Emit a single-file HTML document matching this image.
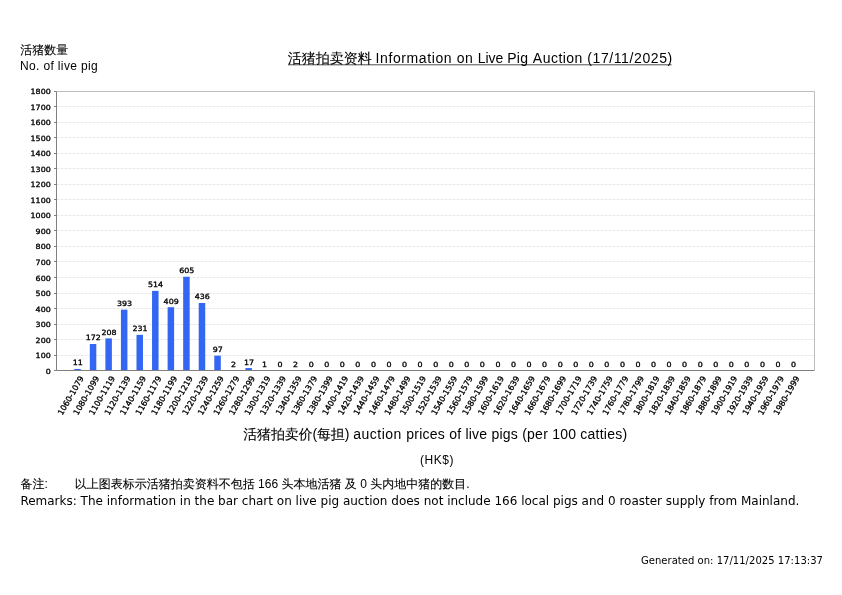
<!DOCTYPE html>
<html lang="zh-Hans"><head><meta charset="utf-8"><title>活猪拍卖资料 Information on Live Pig Auction</title>
<style>
html,body{margin:0;padding:0;background:#fff;}
body{width:842px;height:595px;position:relative;overflow:hidden;font-family:"Liberation Sans","WenQuanYi Zen Hei",sans-serif;color:#000;}
.cj{-webkit-text-stroke:0.1px #000;}
.dv{font-family:"DejaVu Sans","Liberation Sans",sans-serif;}
.t{position:absolute;white-space:pre;line-height:1;}
.chart{position:absolute;left:0;top:0;font-family:"DejaVu Sans","Liberation Sans",sans-serif;}
.chart text{fill:#000;stroke:#000;stroke-width:0.32px;}
.grid line{stroke:#e8e8e8;stroke-width:1;stroke-dasharray:3 1;}
.axis path,.axis line{fill:none;stroke:#7f7f7f;stroke-width:1;}
.ytick text{font-size:7.2px;text-anchor:end;}
.val text{font-size:7.2px;text-anchor:middle;}
.cat text{font-size:8px;text-anchor:end;}
</style></head><body>
<svg width="842" height="595" viewBox="0 0 842 595" class="chart">
<g class="grid">
<line x1="56.5" x2="814.5" y1="355.5" y2="355.5"/>
<line x1="56.5" x2="814.5" y1="339.5" y2="339.5"/>
<line x1="56.5" x2="814.5" y1="324.5" y2="324.5"/>
<line x1="56.5" x2="814.5" y1="308.5" y2="308.5"/>
<line x1="56.5" x2="814.5" y1="293.5" y2="293.5"/>
<line x1="56.5" x2="814.5" y1="277.5" y2="277.5"/>
<line x1="56.5" x2="814.5" y1="261.5" y2="261.5"/>
<line x1="56.5" x2="814.5" y1="246.5" y2="246.5"/>
<line x1="56.5" x2="814.5" y1="230.5" y2="230.5"/>
<line x1="56.5" x2="814.5" y1="215.5" y2="215.5"/>
<line x1="56.5" x2="814.5" y1="199.5" y2="199.5"/>
<line x1="56.5" x2="814.5" y1="184.5" y2="184.5"/>
<line x1="56.5" x2="814.5" y1="168.5" y2="168.5"/>
<line x1="56.5" x2="814.5" y1="153.5" y2="153.5"/>
<line x1="56.5" x2="814.5" y1="137.5" y2="137.5"/>
<line x1="56.5" x2="814.5" y1="122.5" y2="122.5"/>
<line x1="56.5" x2="814.5" y1="106.5" y2="106.5"/>
</g>
<path d="M56.5 91.5H814.5V370.5" fill="none" stroke="#bdbdbd" stroke-width="1"/>
<g fill="#3366f2">
<rect x="74.25" y="368.99" width="6.5" height="1.51"/>
<rect x="89.81" y="343.99" width="6.5" height="26.51"/>
<rect x="105.37" y="338.40" width="6.5" height="32.10"/>
<rect x="120.93" y="309.67" width="6.5" height="60.83"/>
<rect x="136.49" y="334.83" width="6.5" height="35.67"/>
<rect x="152.05" y="290.88" width="6.5" height="79.62"/>
<rect x="167.61" y="307.18" width="6.5" height="63.32"/>
<rect x="183.17" y="276.74" width="6.5" height="93.76"/>
<rect x="198.73" y="302.99" width="6.5" height="67.51"/>
<rect x="214.29" y="355.64" width="6.5" height="14.86"/>
<rect x="229.85" y="370.39" width="6.5" height="0.11"/>
<rect x="245.41" y="368.06" width="6.5" height="2.44"/>
<rect x="292.09" y="370.39" width="6.5" height="0.11"/>
</g>
<g class="axis">
<path d="M56.5 91.5V370.5H814.5"/>
<line x1="54.0" x2="56.5" y1="370.5" y2="370.5"/>
<line x1="54.0" x2="56.5" y1="355.5" y2="355.5"/>
<line x1="54.0" x2="56.5" y1="339.5" y2="339.5"/>
<line x1="54.0" x2="56.5" y1="324.5" y2="324.5"/>
<line x1="54.0" x2="56.5" y1="308.5" y2="308.5"/>
<line x1="54.0" x2="56.5" y1="293.5" y2="293.5"/>
<line x1="54.0" x2="56.5" y1="277.5" y2="277.5"/>
<line x1="54.0" x2="56.5" y1="261.5" y2="261.5"/>
<line x1="54.0" x2="56.5" y1="246.5" y2="246.5"/>
<line x1="54.0" x2="56.5" y1="230.5" y2="230.5"/>
<line x1="54.0" x2="56.5" y1="215.5" y2="215.5"/>
<line x1="54.0" x2="56.5" y1="199.5" y2="199.5"/>
<line x1="54.0" x2="56.5" y1="184.5" y2="184.5"/>
<line x1="54.0" x2="56.5" y1="168.5" y2="168.5"/>
<line x1="54.0" x2="56.5" y1="153.5" y2="153.5"/>
<line x1="54.0" x2="56.5" y1="137.5" y2="137.5"/>
<line x1="54.0" x2="56.5" y1="122.5" y2="122.5"/>
<line x1="54.0" x2="56.5" y1="106.5" y2="106.5"/>
<line x1="54.0" x2="56.5" y1="91.5" y2="91.5"/>
</g>
<g class="ytick">
<text transform="translate(50.7,373.80) scale(1.1,1)">0</text>
<text transform="translate(50.7,358.25) scale(1.1,1)">100</text>
<text transform="translate(50.7,342.71) scale(1.1,1)">200</text>
<text transform="translate(50.7,327.16) scale(1.1,1)">300</text>
<text transform="translate(50.7,311.61) scale(1.1,1)">400</text>
<text transform="translate(50.7,296.06) scale(1.1,1)">500</text>
<text transform="translate(50.7,280.52) scale(1.1,1)">600</text>
<text transform="translate(50.7,264.97) scale(1.1,1)">700</text>
<text transform="translate(50.7,249.42) scale(1.1,1)">800</text>
<text transform="translate(50.7,233.88) scale(1.1,1)">900</text>
<text transform="translate(50.7,218.33) scale(1.1,1)">1000</text>
<text transform="translate(50.7,202.78) scale(1.1,1)">1100</text>
<text transform="translate(50.7,187.24) scale(1.1,1)">1200</text>
<text transform="translate(50.7,171.69) scale(1.1,1)">1300</text>
<text transform="translate(50.7,156.14) scale(1.1,1)">1400</text>
<text transform="translate(50.7,140.59) scale(1.1,1)">1500</text>
<text transform="translate(50.7,125.05) scale(1.1,1)">1600</text>
<text transform="translate(50.7,109.50) scale(1.1,1)">1700</text>
<text transform="translate(50.7,93.95) scale(1.1,1)">1800</text>
</g>
<g class="val">
<text transform="translate(77.80,365.00) scale(1.1,1)">11</text>
<text transform="translate(93.36,340.00) scale(1.1,1)">172</text>
<text transform="translate(108.92,335.00) scale(1.1,1)">208</text>
<text transform="translate(124.48,306.00) scale(1.1,1)">393</text>
<text transform="translate(140.04,331.00) scale(1.1,1)">231</text>
<text transform="translate(155.60,287.00) scale(1.1,1)">514</text>
<text transform="translate(171.16,304.00) scale(1.1,1)">409</text>
<text transform="translate(186.72,273.00) scale(1.1,1)">605</text>
<text transform="translate(202.28,299.00) scale(1.1,1)">436</text>
<text transform="translate(217.84,352.00) scale(1.1,1)">97</text>
<text transform="translate(233.40,367.00) scale(1.1,1)">2</text>
<text transform="translate(248.96,365.00) scale(1.1,1)">17</text>
<text transform="translate(264.52,367.00) scale(1.1,1)">1</text>
<text transform="translate(280.08,367.00) scale(1.1,1)">0</text>
<text transform="translate(295.64,367.00) scale(1.1,1)">2</text>
<text transform="translate(311.20,367.00) scale(1.1,1)">0</text>
<text transform="translate(326.76,367.00) scale(1.1,1)">0</text>
<text transform="translate(342.32,367.00) scale(1.1,1)">0</text>
<text transform="translate(357.88,367.00) scale(1.1,1)">0</text>
<text transform="translate(373.44,367.00) scale(1.1,1)">0</text>
<text transform="translate(389.00,367.00) scale(1.1,1)">0</text>
<text transform="translate(404.56,367.00) scale(1.1,1)">0</text>
<text transform="translate(420.12,367.00) scale(1.1,1)">0</text>
<text transform="translate(435.68,367.00) scale(1.1,1)">0</text>
<text transform="translate(451.24,367.00) scale(1.1,1)">0</text>
<text transform="translate(466.80,367.00) scale(1.1,1)">0</text>
<text transform="translate(482.36,367.00) scale(1.1,1)">0</text>
<text transform="translate(497.92,367.00) scale(1.1,1)">0</text>
<text transform="translate(513.48,367.00) scale(1.1,1)">0</text>
<text transform="translate(529.04,367.00) scale(1.1,1)">0</text>
<text transform="translate(544.60,367.00) scale(1.1,1)">0</text>
<text transform="translate(560.16,367.00) scale(1.1,1)">0</text>
<text transform="translate(575.72,367.00) scale(1.1,1)">0</text>
<text transform="translate(591.28,367.00) scale(1.1,1)">0</text>
<text transform="translate(606.84,367.00) scale(1.1,1)">0</text>
<text transform="translate(622.40,367.00) scale(1.1,1)">0</text>
<text transform="translate(637.96,367.00) scale(1.1,1)">0</text>
<text transform="translate(653.52,367.00) scale(1.1,1)">0</text>
<text transform="translate(669.08,367.00) scale(1.1,1)">0</text>
<text transform="translate(684.64,367.00) scale(1.1,1)">0</text>
<text transform="translate(700.20,367.00) scale(1.1,1)">0</text>
<text transform="translate(715.76,367.00) scale(1.1,1)">0</text>
<text transform="translate(731.32,367.00) scale(1.1,1)">0</text>
<text transform="translate(746.88,367.00) scale(1.1,1)">0</text>
<text transform="translate(762.44,367.00) scale(1.1,1)">0</text>
<text transform="translate(778.00,367.00) scale(1.1,1)">0</text>
<text transform="translate(793.56,367.00) scale(1.1,1)">0</text>
</g>
<g class="cat">
<text transform="translate(84.10,378.0) rotate(-60)">1060-1079</text>
<text transform="translate(99.66,378.0) rotate(-60)">1080-1099</text>
<text transform="translate(115.22,378.0) rotate(-60)">1100-1119</text>
<text transform="translate(130.78,378.0) rotate(-60)">1120-1139</text>
<text transform="translate(146.34,378.0) rotate(-60)">1140-1159</text>
<text transform="translate(161.90,378.0) rotate(-60)">1160-1179</text>
<text transform="translate(177.46,378.0) rotate(-60)">1180-1199</text>
<text transform="translate(193.02,378.0) rotate(-60)">1200-1219</text>
<text transform="translate(208.58,378.0) rotate(-60)">1220-1239</text>
<text transform="translate(224.14,378.0) rotate(-60)">1240-1259</text>
<text transform="translate(239.70,378.0) rotate(-60)">1260-1279</text>
<text transform="translate(255.26,378.0) rotate(-60)">1280-1299</text>
<text transform="translate(270.82,378.0) rotate(-60)">1300-1319</text>
<text transform="translate(286.38,378.0) rotate(-60)">1320-1339</text>
<text transform="translate(301.94,378.0) rotate(-60)">1340-1359</text>
<text transform="translate(317.50,378.0) rotate(-60)">1360-1379</text>
<text transform="translate(333.06,378.0) rotate(-60)">1380-1399</text>
<text transform="translate(348.62,378.0) rotate(-60)">1400-1419</text>
<text transform="translate(364.18,378.0) rotate(-60)">1420-1439</text>
<text transform="translate(379.74,378.0) rotate(-60)">1440-1459</text>
<text transform="translate(395.30,378.0) rotate(-60)">1460-1479</text>
<text transform="translate(410.86,378.0) rotate(-60)">1480-1499</text>
<text transform="translate(426.42,378.0) rotate(-60)">1500-1519</text>
<text transform="translate(441.98,378.0) rotate(-60)">1520-1539</text>
<text transform="translate(457.54,378.0) rotate(-60)">1540-1559</text>
<text transform="translate(473.10,378.0) rotate(-60)">1560-1579</text>
<text transform="translate(488.66,378.0) rotate(-60)">1580-1599</text>
<text transform="translate(504.22,378.0) rotate(-60)">1600-1619</text>
<text transform="translate(519.78,378.0) rotate(-60)">1620-1639</text>
<text transform="translate(535.34,378.0) rotate(-60)">1640-1659</text>
<text transform="translate(550.90,378.0) rotate(-60)">1660-1679</text>
<text transform="translate(566.46,378.0) rotate(-60)">1680-1699</text>
<text transform="translate(582.02,378.0) rotate(-60)">1700-1719</text>
<text transform="translate(597.58,378.0) rotate(-60)">1720-1739</text>
<text transform="translate(613.14,378.0) rotate(-60)">1740-1759</text>
<text transform="translate(628.70,378.0) rotate(-60)">1760-1779</text>
<text transform="translate(644.26,378.0) rotate(-60)">1780-1799</text>
<text transform="translate(659.82,378.0) rotate(-60)">1800-1819</text>
<text transform="translate(675.38,378.0) rotate(-60)">1820-1839</text>
<text transform="translate(690.94,378.0) rotate(-60)">1840-1859</text>
<text transform="translate(706.50,378.0) rotate(-60)">1860-1879</text>
<text transform="translate(722.06,378.0) rotate(-60)">1880-1899</text>
<text transform="translate(737.62,378.0) rotate(-60)">1900-1919</text>
<text transform="translate(753.18,378.0) rotate(-60)">1920-1939</text>
<text transform="translate(768.74,378.0) rotate(-60)">1940-1959</text>
<text transform="translate(784.30,378.0) rotate(-60)">1960-1979</text>
<text transform="translate(799.86,378.0) rotate(-60)">1980-1999</text>
</g>
<line x1="288" x2="671.6" y1="64.8" y2="64.8" stroke="#000" stroke-width="0.7"/>
</svg>
<div class="t cj" id="l1" style="left:20.3px;top:44px;font-size:12px;">活猪数量</div>
<div class="t" id="l2" style="left:20px;top:60px;font-size:12px;letter-spacing:0.357px;">No. of live pig</div>
<div class="t" id="title" style="left:287.7px;top:50.7px;font-size:14px;"><span id="tA" class="cj">活猪拍卖资料</span><span id="tB"><span style="letter-spacing:-0.04px;"> </span><span style="letter-spacing:0.6px;">Information </span><span style="letter-spacing:0.51px;">on </span><span style="letter-spacing:-0.02px;">Live </span><span style="letter-spacing:0.38px;">Pig </span><span style="letter-spacing:0.48px;">Auction </span><span style="letter-spacing:0.6px;">(17/11/2025)</span></span></div>
<div class="t" id="xl" style="left:243.2px;top:427px;font-size:14px;"><span id="xA" style="letter-spacing:-0.15px;"><span class="cj">活猪拍卖价</span>(<span class="cj">每担</span>)</span><span id="xB" style="letter-spacing:0.231px;margin-left:-0.4px;"><span style="letter-spacing:0.51px;"> auction </span>prices of live pigs (per 100 catties)</span></div>
<div class="t" id="hk" style="left:419.9px;top:454px;font-size:12px;letter-spacing:0.54px;">(HK$)</div>
<div class="t" id="r1" style="left:20.4px;top:478px;font-size:12px;"><span id="rA" style="word-spacing:0.53px;"><span class="cj">备注</span>:       </span><span id="rB"><span class="cj">以上图表标示活猪拍卖资料不包括</span> 166 <span class="cj">头本地活猪 及</span> 0 <span class="cj">头内地中猪的数目</span>.</span></div>
<div class="t dv" id="r2" style="left:20.4px;top:495px;font-size:12px;">Remarks: The information in the bar chart on live pig auction does not include 166 local pigs and 0 roaster supply from Mainland.</div>
<div class="t dv" id="gen" style="left:641px;top:556px;font-size:10px;letter-spacing:0.03px;">Generated on: 17/11/2025 17:13:37</div>
</body></html>
